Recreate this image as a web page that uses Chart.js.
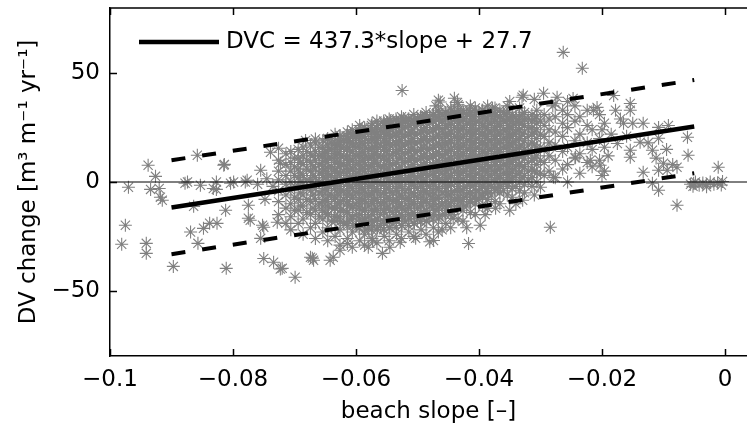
<!DOCTYPE html>
<html><head><meta charset="utf-8">
<script src="https://cdn.jsdelivr.net/npm/chart.js@4/dist/chart.umd.min.js"></script>
<style>html,body{margin:0;padding:0;background:#fff;}#c{display:block;}</style>
</head><body>
<canvas id="c" width="747" height="429"></canvas>
<script>
// ---- axis ticks ----
const xTicks = [-0.1, -0.08, -0.06, -0.04, -0.02, 0];
const xTickLabels = ['−0.1', '−0.08', '−0.06', '−0.04', '−0.02', '0'];
const yTicks = [-50, 0, 50];
const yTickLabels = ['−50', '0', '50'];

// ---- regression line and prediction bounds ----
const fitSlope = [-0.09, -0.005];
const fitDVC = [-11.7, 25.5];
const upperDVC = [10.0, 46.9];
const lowerDVC = [-33.2, 4.0];
const zeroSlope = [-0.1, 0.0036];
const zeroDVC = [0, 0];

// ---- observations: dense core (by slope column) ----
const coreSlope = [-0.0726,-0.0714,-0.0706,-0.0694,-0.0686,-0.0674,-0.0666,-0.0654,-0.0646,-0.0634,
-0.0626,-0.0614,-0.0606,-0.0594,-0.0586,-0.0574,-0.0566,-0.0554,-0.0546,-0.0534,
-0.0526,-0.0514,-0.0506,-0.0494,-0.0486,-0.0474,-0.0466,-0.0454,-0.0446,-0.0434,
-0.0426,-0.0414,-0.0406,-0.0394,-0.0386,-0.0374,-0.0366,-0.0354,-0.0346,-0.0334,
-0.0326,-0.0314,-0.0306,-0.0294,-0.0286,-0.0276,-0.0264,-0.0256,-0.0244,-0.0236,
-0.0224,-0.0216,-0.0204,-0.0196];
const coreDVC = [
[-15,-9,-4,1,5,10],
[-19,-12,-6,-1,3,8,13],
[-22,-16,-10,-4,0,5,9,14],
[-19,-13,-8,-2,2,6,11,15],
[-24,-17,-11,-6,-1,3,8,12,16],
[-21,-15,-9,-4,1,5,9,13,17],
[-26,-19,-13,-8,-3,2,6,10,14,18],
[-23,-17,-11,-6,-1,3,7,12,16,19],
[-27,-21,-15,-9,-4,0,4,9,13,17,20],
[-25,-18,-12,-7,-2,2,6,11,15,18,22],
[-29,-22,-16,-11,-6,-2,3,7,10,14,18,21],
[-26,-20,-14,-9,-4,0,5,9,12,16,20,23],
[-30,-23,-17,-12,-7,-3,1,6,10,14,18,22,24],
[-27,-21,-15,-10,-5,-1,3,8,12,16,19,23,26],
[-29,-24,-18,-13,-8,-4,1,5,9,13,17,21,25],
[-26,-20,-15,-10,-6,-2,2,7,11,15,19,23,27],
[-28,-22,-17,-12,-8,-3,1,5,10,14,18,22,25,28],
[-25,-19,-14,-10,-5,-1,4,8,12,16,20,24,27],
[-27,-21,-16,-11,-7,-2,2,6,10,15,19,23,26,29],
[-24,-18,-13,-9,-4,0,4,9,13,17,21,25,28],
[-26,-20,-15,-10,-6,-1,3,7,11,15,19,23,27,30],
[-23,-17,-12,-8,-3,1,5,10,14,18,22,26,29],
[-25,-19,-14,-9,-5,0,4,8,12,16,20,24,28,31],
[-22,-16,-11,-7,-2,2,6,11,15,19,23,27,30],
[-24,-18,-13,-8,-4,1,5,9,13,17,21,25,29,32],
[-21,-15,-10,-6,-1,3,7,12,16,20,24,28,31],
[-23,-17,-12,-7,-3,2,6,10,14,18,22,26,30,33],
[-19,-13,-9,-4,0,4,8,13,17,21,25,29,32],
[-21,-15,-10,-6,-1,3,7,11,15,19,23,27,31,34],
[-17,-11,-7,-2,2,6,10,14,18,22,26,30,33],
[-18,-13,-8,-4,1,5,9,13,17,21,25,29,33],
[-14,-9,-5,0,4,8,12,16,20,24,28,32,35],
[-15,-10,-6,-1,3,7,11,15,19,23,27,31,34],
[-11,-7,-2,2,6,10,14,18,22,26,30,33],
[-12,-8,-3,1,5,9,13,17,21,25,29,32,35],
[-9,-4,0,4,8,12,16,20,24,28,31,34],
[-10,-5,-1,3,7,11,15,19,23,27,30,33],
[-6,-2,2,6,10,14,18,22,26,29,32,35],
[-7,-3,1,5,9,13,17,21,25,28,31],
[-4,0,4,8,12,16,20,24,27,30,34],
[-5,-1,3,7,11,15,19,23,26,29,32],
[-2,2,6,10,14,18,22,25,28,31],
[0,4,8,12,16,20,24,27,30,33],
[3,9,15,21,26,31],
[5,12,18,24,29],
[2,10,17,23,30,36],
[6,14,21,27,33],
[0,8,16,25,31,37],
[11,19,28,35],
[4,13,22,30],
[9,18,26,33],
[7,15,24],
[10,20,31],
[5,16,27]];

// ---- observations: inner core, second layer ----
const innerSlope = [-0.0700,-0.0680,-0.0660,-0.0640,-0.0620,-0.0600,-0.0580,-0.0560,-0.0540,-0.0520,
-0.0500,-0.0480,-0.0460,-0.0440,-0.0420,-0.0400,-0.0380,-0.0360,-0.0340,-0.0320,-0.0300];
const innerDVC = [
[-13,-7,-2,3,7,11],
[-14,-8,-3,1,6,10,14],
[-16,-10,-5,0,4,8,12,16],
[-18,-12,-6,-1,3,7,11,15,18],
[-19,-13,-8,-4,1,5,8,12,16,19],
[-20,-15,-10,-5,-1,4,8,12,16,20,22],
[-21,-16,-11,-6,-2,3,7,11,15,19,23],
[-20,-15,-10,-6,-1,3,7,12,17,21,24],
[-19,-14,-9,-5,0,4,8,13,17,21,25],
[-18,-13,-8,-4,1,5,9,13,17,21,25,28],
[-17,-12,-7,-3,2,6,10,14,18,22,26,29],
[-16,-11,-6,-2,3,7,11,15,19,23,27,30],
[-15,-10,-5,0,4,8,12,16,20,24,28,31],
[-13,-8,-4,1,5,9,13,17,21,25,29,32],
[-11,-6,-2,3,7,11,15,19,23,27,31],
[-8,-4,0,4,8,12,16,20,24,28,32],
[-6,-2,3,7,11,15,19,23,27,31],
[-4,0,4,8,12,16,20,24,28,32],
[-2,3,7,11,15,19,23,27,30],
[1,5,9,13,17,21,25,29],
[4,10,16,22,28]];

// ---- observations: inner core, third layer ----
const inner2Slope = [-0.0690,-0.0670,-0.0650,-0.0630,-0.0610,-0.0590,-0.0570,-0.0550,-0.0530,-0.0510,
-0.0490,-0.0470,-0.0450,-0.0430,-0.0410,-0.0390,-0.0370,-0.0350,-0.0330,-0.0310];
const inner2DVC = [
[-11,-5,0,4,9],
[-12,-6,-1,3,7,12],
[-14,-8,-3,2,6,10,14],
[-16,-10,-5,0,4,9,13,17],
[-17,-11,-6,-2,2,6,10,14,18],
[-18,-13,-8,-3,1,6,10,14,18,21],
[-18,-13,-8,-4,0,5,9,13,16,20,23],
[-17,-12,-7,-3,2,6,10,14,18,22,25],
[-16,-11,-6,-2,2,6,11,15,19,23,26],
[-15,-10,-5,-1,3,7,11,15,19,23,27],
[-14,-9,-4,0,4,8,12,16,20,24,28],
[-13,-8,-3,1,5,9,13,17,21,25,29],
[-11,-6,-2,2,6,10,14,18,22,26,30],
[-9,-4,0,4,8,12,16,20,24,28,31],
[-7,-2,2,6,10,14,18,22,26,30],
[-5,0,5,9,13,17,21,25,29,32],
[-3,2,6,10,14,18,22,26,30],
[0,4,9,13,17,21,25,29],
[2,7,12,17,22,27,31],
[5,11,17,23,29]];

// ---- observations: densest core, fourth layer ----
const inner3Slope = [-0.0655,-0.0645,-0.0635,-0.0625,-0.0615,-0.0605,-0.0595,-0.0585,-0.0575,-0.0565,
-0.0555,-0.0545,-0.0535,-0.0525,-0.0515,-0.0505,-0.0495,-0.0485,-0.0475,-0.0465,
-0.0455,-0.0445,-0.0435,-0.0425,-0.0415,-0.0405,-0.0395,-0.0385,-0.0375,-0.0365,
-0.0355,-0.0345,-0.0335];
const inner3DVC = [
[-13,-9,-4,0,5,9,13],
[-15,-11,-6,-2,3,7,11,15],
[-16,-12,-8,-3,1,5,9,13,17],
[-18,-13,-9,-4,0,4,8,12,16,19],
[-19,-14,-10,-6,-1,3,7,11,15,19,21],
[-20,-16,-11,-7,-3,2,6,10,14,17,21],
[-21,-17,-12,-8,-3,1,5,9,13,17,21,24],
[-22,-17,-13,-9,-5,0,4,8,12,16,20,23],
[-22,-18,-13,-9,-5,-1,4,8,12,16,20,24,26],
[-21,-17,-13,-9,-4,0,4,8,12,16,20,23,26],
[-22,-18,-13,-9,-5,-1,3,7,11,15,19,23,26,28],
[-21,-17,-13,-8,-4,0,4,8,12,17,21,24,27],
[-21,-16,-12,-8,-3,1,5,9,14,18,22,26,29],
[-20,-16,-12,-7,-3,1,5,9,13,17,21,25,28],
[-20,-15,-11,-7,-3,2,6,10,14,18,22,26,29],
[-19,-15,-10,-6,-2,2,6,10,14,18,22,26,29],
[-18,-14,-10,-5,-1,3,7,11,15,19,23,27,30],
[-18,-13,-9,-5,-1,3,7,11,15,19,23,27,30],
[-17,-12,-8,-4,0,4,8,12,16,20,24,28,31],
[-16,-11,-7,-3,1,5,9,13,17,21,25,29,32],
[-15,-11,-6,-2,2,6,10,14,18,22,26,30,32],
[-14,-9,-5,-1,3,7,11,15,19,23,27,31,33],
[-12,-8,-4,0,4,8,12,16,20,24,28,32],
[-11,-7,-3,1,5,9,13,17,21,25,29,32],
[-9,-5,-1,3,7,11,15,19,23,27,31,33],
[-8,-4,0,4,8,12,16,20,24,28,32],
[-6,-2,2,6,10,14,18,22,26,30,33],
[-5,-1,3,7,11,15,19,23,27,31],
[-3,1,5,9,13,17,21,25,29,32],
[-2,2,6,10,14,18,22,26,30],
[0,4,8,12,16,20,24,28,31],
[2,6,10,14,18,22,26,30],
[4,8,12,16,20,24,28]];

// ---- observations: scattered points ----
const outSlope = [
-0.0970,-0.0938,-0.0926,-0.0934,-0.0920,-0.0918,-0.0915,-0.0858,-0.0814,-0.0815,
-0.0878,-0.0874,-0.0853,-0.0827,-0.0827,-0.0832,-0.0799,-0.0780,-0.0804,-0.0777,
-0.0975,-0.0981,-0.0941,-0.0941,-0.0897,-0.0811,-0.0869,-0.0857,-0.0848,-0.0838,
-0.0826,-0.0812,-0.0864,-0.0750,-0.0734,-0.0720,-0.0723,-0.0699,-0.0674,-0.0669,
-0.0671,-0.0642,-0.0637,-0.0755,-0.0775,-0.0775,-0.0772,-0.0752,-0.0750,-0.0755,
-0.0728,-0.0723,-0.0739,-0.0726,-0.0760,-0.0745,-0.0735,-0.0748,
-0.0682,-0.0666,-0.0647,-0.0626,-0.0609,-0.0593,-0.0590,-0.0549,-0.0544,-0.0523,
-0.0525,-0.0492,-0.0470,-0.0466,-0.0463,-0.0440,-0.0435,-0.0434,-0.0378,-0.0350,
-0.0330,-0.0328,-0.0310,-0.0295,-0.0280,-0.0273,-0.0263,-0.0247,-0.0232,-0.0214,
-0.0626,-0.0614,-0.0580,-0.0573,-0.0557,-0.0545,-0.0528,-0.0503,-0.0480,-0.0474,
-0.0460,-0.0442,-0.0420,-0.0417,-0.0398,-0.0390,-0.0373,-0.0350,-0.0340,-0.0329,
-0.0310,-0.0300,-0.0284,-0.0279,
-0.0243,-0.0219,-0.0208,-0.0203,-0.0200,-0.0200,-0.0190,-0.0185,-0.0181,-0.0178,
-0.0175,-0.0170,-0.0165,-0.0160,-0.0154,-0.0154,-0.0154,-0.0154,-0.0150,-0.0138,
-0.0133,-0.0133,-0.0125,-0.0118,-0.0118,-0.0112,-0.0108,-0.0108,-0.0108,-0.0108,
-0.0100,-0.0095,-0.0094,-0.0092,-0.0085,-0.0078,-0.0078,-0.0061,-0.0060,-0.0056,
-0.0052,-0.0051,-0.0048,-0.0042,-0.0036,-0.0030,-0.0030,-0.0024,-0.0018,-0.0012,
-0.0011,-0.0006,-0.0004];
const outDVC = [
-2.4,7.7,2.6,-3.4,-3.0,-7.0,-8.4,12.3,8.1,7.7,
-0.6,0.0,-1.5,0.0,-3.4,-3.0,0.0,0.0,-0.6,0.8,
-19.9,-28.6,-28.2,-32.8,-38.8,-39.7,-23.0,-28.2,-21.3,-19.0,
-19.0,-13.0,-11.2,-35.2,-36.9,-39.7,-40.0,-43.8,-34.6,-36.0,
-35.0,-36.0,-34.6,5.4,-10.7,-16.7,-17.6,-19.9,-20.8,-25.9,
-18.5,8.6,13.7,15.5,-1.0,1.5,-2.0,-8.0,
19.1,19.8,19.5,21.4,22.3,22.8,24.6,27.4,28.2,29.2,
42.1,29.7,35.0,37.6,36.8,38.5,36.6,35.5,33.9,37.0,
39.0,39.9,38.0,40.8,35.0,39.0,59.6,38.4,52.3,33.0,
-31.4,-28.3,-30.0,-26.8,-32.8,-30.0,-27.7,-25.9,-27.5,-26.9,
-22.0,-16.7,-21.0,-28.3,-19.9,-15.0,-12.1,-13.0,-10.0,-8.4,
-6.0,-2.4,-20.8,2.2,
11.4,10.0,34.3,7.7,24.0,3.0,12.0,22.0,39.8,33.0,
17.7,29.0,27.0,21.0,36.1,33.0,14.6,11.4,27.0,18.3,
27.0,4.5,18.0,14.6,-0.6,11.0,25.1,20.1,5.4,-3.8,
8.6,15.0,5.4,26.0,8.0,6.8,-10.7,20.6,12.3,-1.0,
-2.0,-0.6,0.0,-1.5,-0.5,-1.2,-2.2,0.0,-1.0,-0.3,
6.8,-1.4,0.2];

const FONT = 'DejaVu Sans';

// build library data from the arrays
const obsPoints = [];
const addColumns = (slopes, cols) => slopes.forEach((s, i) => cols[i].forEach(v => obsPoints.push({x: s, y: v})));
addColumns(coreSlope, coreDVC);
addColumns(innerSlope, innerDVC);
addColumns(inner2Slope, inner2DVC);
addColumns(inner3Slope, inner3DVC);
outSlope.forEach((s, i) => obsPoints.push({x: s, y: outDVC[i]}));
const pair = (xs, ys) => xs.map((x, i) => ({x, y: ys[i]}));

const axesPlugin = {
  id: 'matlabAxes',
  afterDatasetsDraw(chart) {
    const {ctx, chartArea: ca, scales: {x, y}} = chart;
    ctx.save();
    ctx.strokeStyle = '#000';
    ctx.lineWidth = 1.5;
    ctx.beginPath();
    ctx.moveTo(ca.left, ca.top); ctx.lineTo(ca.right, ca.top);
    xTicks.forEach(v => {
      const px = Math.round(x.getPixelForValue(v)) + 0.5;
      ctx.moveTo(px, ca.bottom); ctx.lineTo(px, ca.bottom - 7);
      ctx.moveTo(px, ca.top); ctx.lineTo(px, ca.top + 7);
    });
    yTicks.forEach(v => {
      const py = Math.round(y.getPixelForValue(v)) + 0.5;
      ctx.moveTo(ca.left, py); ctx.lineTo(ca.left + 7, py);
    });
    ctx.stroke();
    ctx.restore();
  }
};

const legendPlugin = {
  id: 'fitLegend',
  afterDraw(chart) {
    const {ctx, chartArea: ca} = chart;
    const ds = chart.data.datasets[0];
    const yc = ca.top + 34;
    ctx.save();
    ctx.strokeStyle = ds.borderColor;
    ctx.lineWidth = ds.borderWidth;
    ctx.beginPath();
    ctx.moveTo(ca.left + 29, yc); ctx.lineTo(ca.left + 109, yc);
    ctx.stroke();
    ctx.fillStyle = '#000';
    ctx.font = '23px "' + FONT + '"';
    ctx.textBaseline = 'middle';
    ctx.textAlign = 'left';
    ctx.fillText(ds.label, ca.left + 116, yc);
    ctx.restore();
  }
};

new Chart(document.getElementById('c'), {
  type: 'scatter',
  data: {
    datasets: [
      {label: 'DVC = 437.3*slope + 27.7', data: pair(fitSlope, fitDVC), showLine: true,
       borderColor: '#000', borderWidth: 4.5, pointRadius: 0, order: 1},
      {label: 'upper bound', data: pair(fitSlope, upperDVC), showLine: true,
       borderColor: '#000', borderWidth: 4, borderDash: [14, 17], pointRadius: 0, order: 2},
      {label: 'lower bound', data: pair(fitSlope, lowerDVC), showLine: true,
       borderColor: '#000', borderWidth: 4, borderDash: [14, 17], pointRadius: 0, order: 2},
      {label: 'zero', data: pair(zeroSlope, zeroDVC), showLine: true,
       borderColor: '#000', borderWidth: 1, pointRadius: 0, order: 3},
      {label: 'observations', data: obsPoints, showLine: false,
       pointStyle: 'star', pointRadius: 6.5, borderColor: '#808080', pointBorderColor: '#808080',
       backgroundColor: 'rgba(0,0,0,0)', pointBorderWidth: 1.1, borderWidth: 1, order: 4}
    ]
  },
  options: {
    responsive: false, animation: false, devicePixelRatio: 1,
    layout: {autoPadding: false, padding: {top: 8, right: 0, left: 0, bottom: 0}},
    plugins: {legend: {display: false}, tooltip: {enabled: false}},
    events: [],
    scales: {
      x: {
        type: 'linear', min: -0.1, max: 0.00358,
        afterBuildTicks: s => { s.ticks = xTicks.map(v => ({value: v})); },
        afterFit: s => { s.height = 73; s.paddingLeft = 0; s.paddingRight = 0; },
        grid: {display: false, drawTicks: false},
        border: {display: true, color: '#000', width: 1.5},
        ticks: {color: '#000', font: {family: FONT, size: 23}, padding: 10, maxRotation: 0, autoSkip: false,
                callback: (v, i) => xTickLabels[i]},
        title: {display: true, text: 'beach slope [–]', color: '#000', font: {family: FONT, size: 23},
                padding: {top: 0, bottom: 3}}
      },
      y: {
        type: 'linear', min: -80, max: 80,
        afterBuildTicks: s => { s.ticks = yTicks.map(v => ({value: v})); },
        afterFit: s => { s.width = 110; s.paddingTop = 0; s.paddingBottom = 0; },
        grid: {display: false, drawTicks: false},
        border: {display: true, color: '#000', width: 1.5},
        ticks: {color: '#000', font: {family: FONT, size: 23}, padding: 10, autoSkip: false,
                callback: (v, i) => yTickLabels[i]},
        title: {display: true, text: 'DV change [m³ m⁻¹ yr⁻¹]', color: '#000', font: {family: FONT, size: 23},
                padding: {top: 15, bottom: 0}}
      }
    }
  },
  plugins: [axesPlugin, legendPlugin]
});
</script>
</body></html>
